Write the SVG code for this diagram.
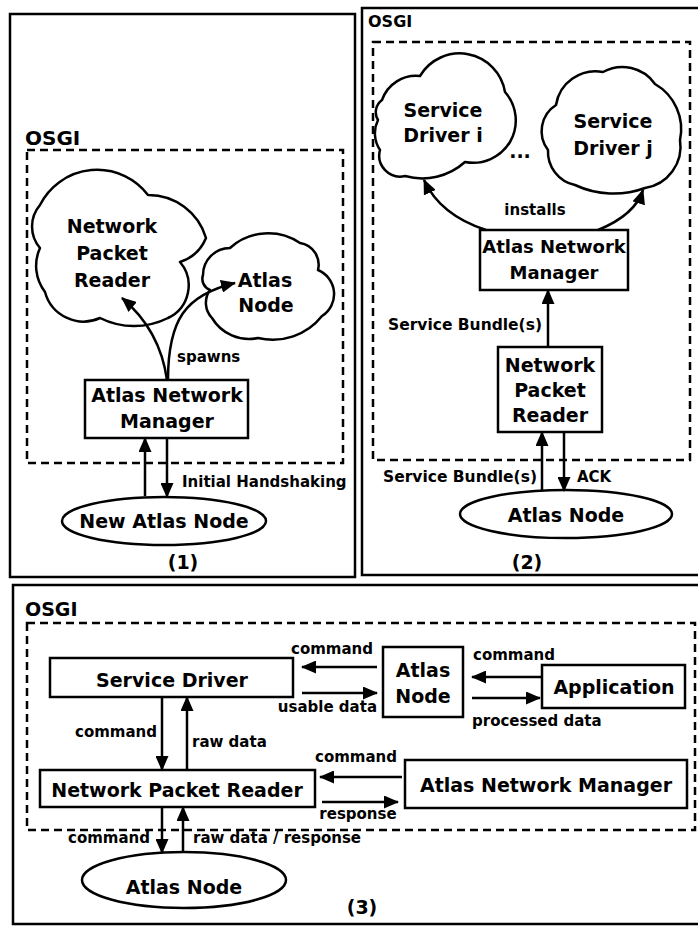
<svg xmlns="http://www.w3.org/2000/svg" width="698" height="926" viewBox="0 0 698 926">
<style>
.panel{fill:none;stroke:#000;stroke-width:2.5}
.osgi{fill:none;stroke:#000;stroke-width:2.5;stroke-dasharray:8 5}
.box{fill:#fff;stroke:#000;stroke-width:2.5}
.cloud{fill:#fff;stroke:#000;stroke-width:2.5;stroke-linejoin:round}
.arr{fill:none;stroke:#000;stroke-width:2.5;marker-end:url(#ah)}
text{font-family:"DejaVu Sans",Verdana,sans-serif;font-weight:bold;font-size:19px;fill:#000}
.s{font-size:15px}
.m{text-anchor:middle}
.e{text-anchor:end}
</style>
<defs>
<marker id="ah" markerWidth="15" markerHeight="13" refX="14" refY="6.5" orient="auto" markerUnits="userSpaceOnUse">
<path d="M0,0 L15,6.5 L0,13 z" fill="#000"/>
</marker>
</defs>

<g id="panels">
<rect class="panel" x="10" y="14" width="345" height="563"/>
<rect class="panel" x="362" y="8" width="350" height="567"/>
<rect class="panel" x="13" y="585" width="700" height="339"/>
<rect class="osgi" x="27" y="150" width="316" height="313"/>
<rect class="osgi" x="373" y="42" width="317" height="418"/>
<rect class="osgi" x="27" y="623" width="668" height="207"/>
<text x="25" y="145" style="font-size:20px">OSGI</text>
<text x="368" y="27" style="font-size:16px">OSGI</text>
<text x="25" y="616">OSGI</text>
<text class="m" x="183" y="569">(1)</text>
<text class="m" x="527" y="569">(2)</text>
<text class="m" x="362" y="914">(3)</text>
</g>

<!-- Panel 1 -->
<g id="p1-npr">
<path class="cloud" d="M40,205 A64,64 0 0 1 148,195 A60,60 0 0 1 206,238 A42,42 0 0 1 180,262 A36,36 0 0 1 168,318 A76,76 0 0 1 100,318 A40,40 0 0 1 45,292 A43,43 0 0 1 40,248 A33,33 0 0 1 40,205 Z"/>
<text class="m" x="112" y="233">Network</text>
<text class="m" x="112" y="260">Packet</text>
<text class="m" x="112" y="287">Reader</text>
</g>
<g id="p1-atlasnode">
<path class="cloud" d="M203,275 A27,27 0 0 1 230,248 A57,57 0 0 1 300,243 A22,22 0 0 1 318,270 A26,26 0 0 1 322,316 A63,63 0 0 1 258,338 A43,43 0 0 1 212,318 A22,22 0 0 1 210,290 A12,12 0 0 1 203,275 Z"/>
<text class="m" x="265" y="287">Atlas</text>
<text class="m" x="266" y="312">Node</text>
</g>
<g id="p1-anm">
<rect class="box" x="85" y="380" width="163" height="58"/>
<text class="m" x="167" y="402">Atlas Network</text>
<text class="m" x="167" y="428">Manager</text>
</g>
<g id="p1-newnode">
<ellipse class="box" cx="164" cy="521" rx="102" ry="24"/>
<text class="m" x="164" y="528">New Atlas Node</text>
</g>

<!-- Panel 2 -->
<g id="p2-sdi">
<path class="cloud" d="M382,100 A36,36 0 0 1 420,76 A46,46 0 0 1 505,92 A43,43 0 0 1 510,142 A43,43 0 0 1 465,162 A64,64 0 0 1 405,176 A21,21 0 0 1 380,150 A30,30 0 0 1 378,120 A15,15 0 0 1 382,100 Z"/>
<text class="m" x="443" y="117">Service</text>
<text class="m" x="443" y="142">Driver i</text>
</g>
<g id="p2-sdj">
<path class="cloud" d="M556,105 A40,40 0 0 1 603,72 A40,40 0 0 1 655,84 A52,52 0 0 1 680,140 A42,42 0 0 1 645,188 A91,91 0 0 1 575,185 A34,34 0 0 1 548,150 A31,31 0 0 1 556,105 Z"/>
<text class="m" x="613" y="128">Service</text>
<text class="m" x="613" y="155">Driver j</text>
</g>
<text class="m" x="520" y="158">...</text>
<g id="p2-anm">
<rect class="box" x="480" y="230" width="148" height="60"/>
<text class="m" x="554" y="253" style="font-size:18px">Atlas Network</text>
<text class="m" x="554" y="279" style="font-size:18px">Manager</text>
</g>
<g id="p2-npr">
<rect class="box" x="498" y="347" width="104" height="85"/>
<text class="m" x="550" y="372">Network</text>
<text class="m" x="550" y="397">Packet</text>
<text class="m" x="550" y="422">Reader</text>
</g>
<g id="p2-atlasnode">
<ellipse class="box" cx="566" cy="514" rx="106" ry="24"/>
<text class="m" x="566" y="522">Atlas Node</text>
</g>

<!-- Panel 3 -->
<g id="p3-sd">
<rect class="box" x="50" y="658" width="243" height="39"/>
<text class="m" x="172" y="687">Service Driver</text>
</g>
<g id="p3-atlasnode">
<rect class="box" x="383" y="647" width="80" height="70"/>
<text class="m" x="423" y="677">Atlas</text>
<text class="m" x="423" y="703">Node</text>
</g>
<g id="p3-app">
<rect class="box" x="542" y="665" width="143" height="43"/>
<text class="m" x="614" y="694">Application</text>
</g>
<g id="p3-npr">
<rect class="box" x="40" y="770" width="275" height="37"/>
<text class="m" x="177" y="797">Network Packet Reader</text>
</g>
<g id="p3-anm">
<rect class="box" x="405" y="760" width="282" height="48"/>
<text class="m" x="546" y="792">Atlas Network Manager</text>
</g>
<g id="p3-ellipse">
<ellipse class="box" cx="184" cy="880" rx="102" ry="28"/>
<text class="m" x="184" y="894">Atlas Node</text>
</g>

<g id="connectors">
<!-- panel 1 -->
<path class="arr" d="M167,380 Q160,330 122,298"/>
<path class="arr" d="M168,380 C168,320 185,295 235,283"/>
<path class="arr" d="M145,496 L145,438"/>
<path class="arr" d="M167,438 L167,497"/>
<!-- panel 2 -->
<path class="arr" d="M486,230 Q440,215 424,180"/>
<path class="arr" d="M598,230 Q635,215 643,190"/>
<path class="arr" d="M548,347 L548,290"/>
<path class="arr" d="M542,491 L542,432"/>
<path class="arr" d="M564,432 L564,491"/>
<!-- panel 3 -->
<path class="arr" d="M377,667 L302,667"/>
<path class="arr" d="M302,693 L377,693"/>
<path class="arr" d="M542,677 L472,677"/>
<path class="arr" d="M472,698 L540,698"/>
<path class="arr" d="M162,697 L162,770"/>
<path class="arr" d="M187,770 L187,697"/>
<path class="arr" d="M402,777 L320,777"/>
<path class="arr" d="M322,802 L398,802"/>
<path class="arr" d="M162,807 L162,853"/>
<path class="arr" d="M183,852 L183,807"/>
</g>

<g id="labels">
<text class="s" x="177" y="362">spawns</text>
<text class="s" x="182" y="487">Initial Handshaking</text>
<text class="s m" x="535" y="215">installs</text>
<text class="s e" x="542" y="330" style="font-size:15.5px">Service Bundle(s)</text>
<text class="s e" x="537" y="482" style="font-size:15.5px">Service Bundle(s)</text>
<text class="s" x="577" y="482">ACK</text>
<text class="s m" x="332" y="654">command</text>
<text class="s e" x="377" y="712">usable data</text>
<text class="s" x="473" y="660">command</text>
<text class="s" x="472" y="726">processed data</text>
<text class="s e" x="157" y="737">command</text>
<text class="s" x="192" y="747">raw data</text>
<text class="s m" x="356" y="762">command</text>
<text class="s m" x="358" y="819">response</text>
<text class="s e" x="150" y="843">command</text>
<text class="s" x="193" y="843">raw data / response</text>
</g>
</svg>
